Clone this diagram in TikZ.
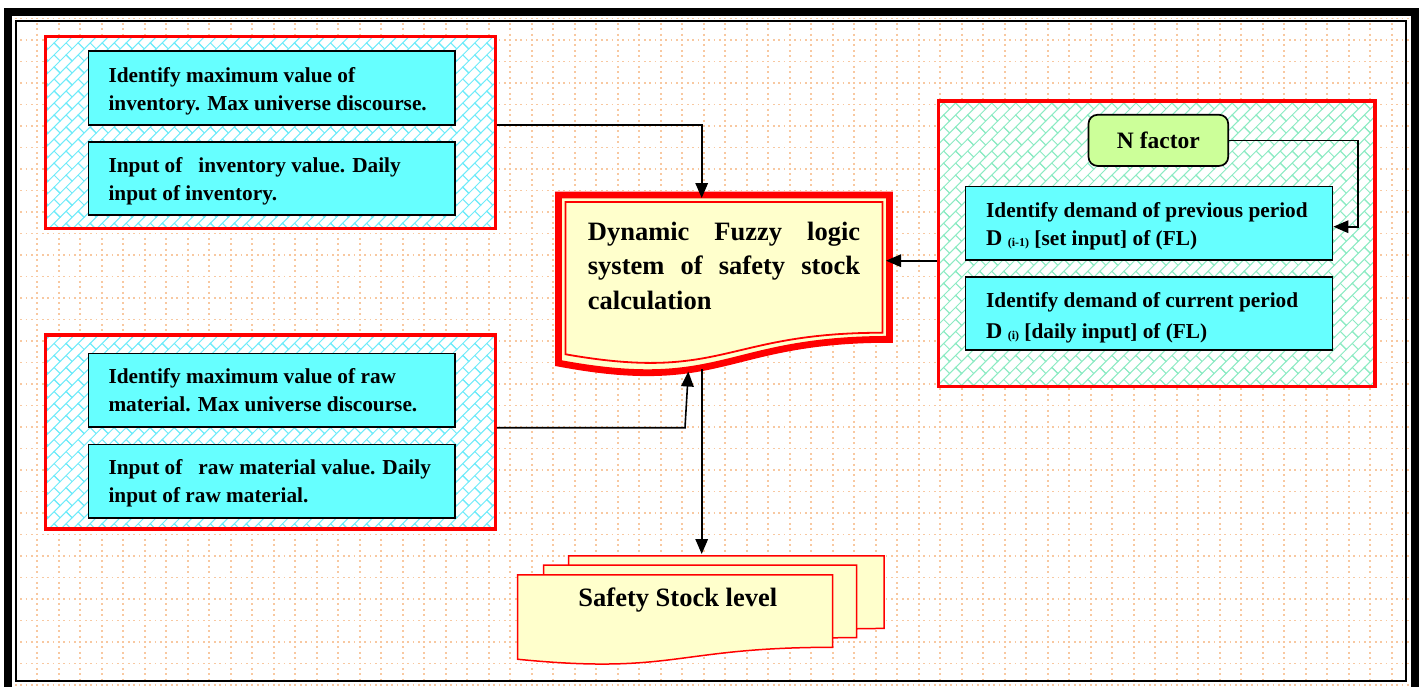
\documentclass[tikz,border=0pt]{standalone}
\usepackage{fontspec}
\setmainfont{Liberation Serif}
\usetikzlibrary{arrows.meta,patterns.meta}

\pgfdeclarepattern{
  name=brick45,
  type=uncolored,
  bottom left={\pgfpoint{-1pt}{-1pt}},
  top right={\pgfpoint{18pt}{18pt}},
  tile size={\pgfpoint{17pt}{17pt}},
  tile transformation={\pgftransformrotate{45}},
  code={
    \pgfsetlinewidth{1pt}
    \pgfpathmoveto{\pgfpoint{-1pt}{0pt}}\pgfpathlineto{\pgfpoint{18pt}{0pt}}
    \pgfpathmoveto{\pgfpoint{-1pt}{8.5pt}}\pgfpathlineto{\pgfpoint{18pt}{8.5pt}}
    \pgfpathmoveto{\pgfpoint{0pt}{0pt}}\pgfpathlineto{\pgfpoint{0pt}{8.5pt}}
    \pgfpathmoveto{\pgfpoint{8.5pt}{8.5pt}}\pgfpathlineto{\pgfpoint{8.5pt}{17pt}}
    \pgfpathmoveto{\pgfpoint{17pt}{0pt}}\pgfpathlineto{\pgfpoint{17pt}{8.5pt}}
    \pgfusepath{stroke}
  }
}

\definecolor{boxcyan}{RGB}{102,255,255}
\definecolor{cream}{RGB}{255,255,204}
\definecolor{nfgreen}{RGB}{204,255,153}
\definecolor{patcyan}{RGB}{110,235,250}
\definecolor{patgreen}{RGB}{140,235,195}
\definecolor{gridorange}{RGB}{248,200,160}
\definecolor{fred}{RGB}{255,0,0}

\newcommand{\docpath}[4]{(#1,#2) -- ({#1+#3},#2) -- ({#1+#3},{#2+0.802*#4}) .. controls ({#1+0.5*#3},{#2+0.802*#4}) and ({#1+0.5*#3},{#2+1.107*#4}) .. (#1,{#2+0.934*#4}) -- cycle}
\newcommand{\Dsub}[1]{{\fontsize{22.5}{28}\selectfont D}\ \raisebox{-1.5pt}{\fontsize{12}{12}\selectfont #1}\ }

\begin{document}
\begin{tikzpicture}[x=1pt,y=-1pt,
  gridline/.style={draw=gridorange, line width=1.8pt, dash pattern=on 1.8pt off 3.575pt},
  container/.style={draw=fred, line width=3.3pt, preaction={fill=white}, pattern=brick45, inner sep=0pt},
  cbox/.style={draw=black, line width=1.7pt, fill=boxcyan, inner sep=0pt, minimum width=366.7pt, minimum height=73.6pt},
  btxt/.style={anchor=base west, align=left, inner sep=0pt, font=\fontsize{21.3}{28}\selectfont\bfseries},
  arr/.style={-{Triangle[length=15pt,width=12.5pt]}, line width=1.6pt},
  docs/.style={draw=fred, line width=1.5pt, fill=cream},
  ghost/.style={inner sep=0pt, outer sep=0pt, anchor=north west}
]
\useasboundingbox (0,0) rectangle (1422,686);

% dotted grid
\foreach \i in {0,...,65} \draw[gridline] ({15.8+21.5*\i},17.6) -- ({15.8+21.5*\i},690);
\foreach \j in {0,...,31} \draw[gridline] (14.9,{18.5+21.5*\j}) -- (1410,{18.5+21.5*\j});

% frames
\draw[line width=8pt] (8,12) rectangle (1414.5,700);
\draw[line width=2.3pt] (16,21) rectangle (1406,681);

% left containers
\node[container, pattern color=patcyan, minimum width=449.6pt, minimum height=191.9pt] (A) at (270.5,132.3) {};
\node[cbox, minimum height=74pt] (box1) at (271.85,88.2) {};
\node[cbox] (box2) at (271.85,178.5) {};
\node[btxt] (tA1) at (108.3,110) {Identify maximum value of\\inventory. Max universe discourse.};
\node[btxt] (tA2) at (108.3,200.3) {Input of\ \ \ inventory value. Daily\\input of inventory.};

\node[container, pattern color=patcyan, minimum width=449.6pt, minimum height=194pt] (B) at (270.5,432) {};
\node[cbox] (box3) at (271.85,390.35) {};
\node[cbox] (box4) at (271.85,481.2) {};
\node[btxt] (tB1) at (108.3,411.6) {Identify maximum value of raw\\material. Max universe discourse.};
\node[btxt] (tB2) at (108.3,502) {Input of\ \ \ raw material value. Daily\\input of raw material.};

% right container
\node[container, pattern color=patgreen, minimum width=436.7pt, minimum height=285.6pt] (C) at (1156.65,243.8) {};
\node[draw=black, line width=1.7pt, fill=nfgreen, rounded corners=9pt, inner sep=0pt,
      minimum width=139.7pt, minimum height=51.1pt,
      font=\fontsize{23.5}{28}\selectfont\bfseries] (nf) at (1158.35,140.35) {N factor};
\node[cbox, minimum width=367pt, minimum height=73.7pt] (box5) at (1149,223.35) {};
\node[cbox, minimum width=367pt, minimum height=73.4pt] (box6) at (1149,313.5) {};
\node[btxt, font=\fontsize{21.3}{27.7}\selectfont\bfseries] (tC1) at (986,245) {Identify demand of previous period\\\Dsub{(i-1)}[set input] of (FL)};
\node[btxt, font=\fontsize{21.3}{31}\selectfont\bfseries] (tC2) at (986,338.3) {Identify demand of current period\\\Dsub{(i)}[daily input] of (FL)};

% central document shape
\fill[cream] \docpath{558.4}{195}{331}{180};
\draw[fred, line width=6.8pt] \docpath{558.4}{195}{331}{180};
\draw[fred, line width=1.8pt] \docpath{565.4}{202}{317}{163};
\node[ghost, minimum width=324pt, minimum height=160pt] (fl) at (562,198) {};
\node[anchor=base west, align=left, inner sep=0pt, text width=272.3pt,
      font=\fontsize{26.5}{34.65}\selectfont\bfseries] (fltxt) at (587.7,240)
  {Dynamic\hfill Fuzzy\hfill logic\\system\hfill of\hfill safety\hfill stock\\calculation};
\coordinate (flb1) at (688.3,371.5);
\coordinate (flb2) at (701.7,369);
\coordinate (bk) at (685,427.7);

% safety stock (multi document)
\draw[docs] \docpath{568.5}{555.8}{315.7}{90.6};
\draw[docs] \docpath{543.5}{565.1}{313}{90.4};
\draw[docs] \docpath{517.5}{574.8}{315}{90.4};
\node[ghost, minimum width=315.7pt, minimum height=73pt] (ssback) at (568.5,554) {};
\node[anchor=base, inner sep=0pt, font=\fontsize{26.5}{30}\selectfont\bfseries] (sstxt) at (677.8,606) {Safety Stock level};

% connectors
\draw[arr] ([yshift=7.3pt]A.east) -| (flb2 |- fl.north);
\draw[arr] ([yshift=4.3pt]B.east) -- (bk) -- (flb1);
\draw[arr] (flb2) -- (flb2 |- ssback.north);
\draw[arr] ([yshift=-16.9pt]C.west) -- ([yshift=-16.9pt]C.west -| fl.east);
\draw[arr] (nf.east) -- ++(128.7,0) |- ([yshift=-3.35pt]box5.east);
\end{tikzpicture}
\end{document}
